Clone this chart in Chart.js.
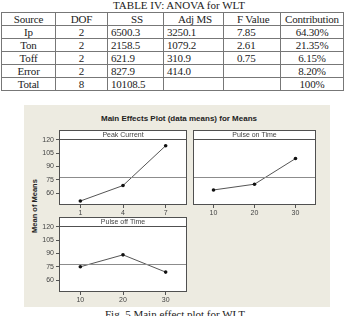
<!DOCTYPE html>
<html>
<head>
<meta charset="utf-8">
<script src="https://cdn.jsdelivr.net/npm/chart.js@4.4.0/dist/chart.umd.min.js"></script>
<style>
body { margin:0; width:346px; height:316px; overflow:hidden; background:#fff; position:relative; font-family:"Liberation Serif", serif; color:#222; }
#tcap { position:absolute; left:0; width:358px; top:-1px; text-align:center; font-size:11px; line-height:12px; }
#anova { position:absolute; left:1px; top:12px; border-collapse:collapse; table-layout:fixed; width:342px; font-size:11px; letter-spacing:-0.2px; }
#anova td { border:1px solid #777; height:12px; line-height:12px; padding:0; white-space:nowrap; }
#panel { position:absolute; left:24px; top:105px; width:306px; height:202px; background:#edebe1; }
#ptitle { position:absolute; left:26px; width:306px; top:114px; text-align:center; font:bold 8px "Liberation Sans", sans-serif; color:#222; }
#ylab { position:absolute; left:0; top:0; width:80px; text-align:center; font:bold 7.5px "Liberation Sans", sans-serif; color:#222;
        transform-origin:40px 5px; transform:translate(-5px, 201px) rotate(-90deg); line-height:10px; }
canvas { position:absolute; }
#c1 { left:26px; top:126px; }
#c2 { left:189px; top:126px; }
#c3 { left:26px; top:213px; }
#fcap { position:absolute; left:0; width:350px; top:308px; text-align:center; font-size:11px; line-height:12px; }
</style>
</head>
<body>
<div id="tcap">TABLE IV: ANOVA for WLT</div>
<table id="anova"></table>
<div id="panel"></div>
<div id="ptitle">Main Effects Plot (data means) for Means</div>
<div id="ylab">Mean of Means</div>
<canvas id="c1" width="165" height="94"></canvas>
<canvas id="c2" width="131" height="94"></canvas>
<canvas id="c3" width="165" height="94"></canvas>
<div id="fcap">Fig. 5 Main effect plot for WLT</div>
<script>
// ANOVA table
var headers = ['Source', 'DOF', 'SS', 'Adj MS', 'F Value', 'Contribution'];
var sources = ['Ip', 'Ton', 'Toff', 'Error', 'Total'];
var dof = ['2', '2', '2', '2', '8'];
var ss = ['6500.3', '2158.5', '621.9', '827.9', '10108.5'];
var adjMs = ['3250.1', '1079.2', '310.9', '414.0', ''];
var fValue = ['7.85', '2.61', '0.75', '', ''];
var contribution = ['64.30%', '21.35%', '6.15%', '8.20%', '100%'];

// main effects (data means)
var yTicks = [60, 75, 90, 105, 120];
var peakLevels = ['1', '4', '7'];
var peakMeans = [51, 68.5, 113.5];
var onLevels = ['10', '20', '30'];
var onMeans = [63.5, 70, 99];
var offLevels = ['10', '20', '30'];
var offMeans = [75, 88.5, 69];
var grandMean = 77.8;

var colWidths = [54, 52, 56, 60, 57, 63];
var headAlign = ['center', 'center', 'center', 'center', 'left', 'center'];
var cellAlign = ['center', 'center', 'left', 'left', 'left', 'center'];
var cellPad = [0, 0, 3, 3, 13, 0];

var table = document.getElementById('anova');
var cg = document.createElement('colgroup');
colWidths.forEach(function (w) {
    var c = document.createElement('col');
    c.style.width = w + 'px';
    cg.appendChild(c);
});
table.appendChild(cg);
function addRow(cells, align) {
    var tr = document.createElement('tr');
    cells.forEach(function (txt, i) {
        var td = document.createElement('td');
        td.textContent = txt;
        td.style.textAlign = align[i];
        td.style.paddingLeft = cellPad[i] + 'px';
        tr.appendChild(td);
    });
    table.appendChild(tr);
}
addRow(headers, headAlign);
for (var i = 0; i < sources.length; i++) {
    addRow([sources[i], dof[i], ss[i], adjMs[i], fValue[i], contribution[i]], cellAlign);
}

var framePlugin = {
    id: 'frame',
    beforeDraw: function (chart, args, opts) {
        var ctx = chart.ctx, a = chart.chartArea;
        ctx.save();
        ctx.fillStyle = '#ffffff';
        ctx.fillRect(a.left, a.top - 9, a.right - a.left, a.bottom - a.top + 9);
        ctx.restore();
    },
    afterDraw: function (chart, args, opts) {
        var ctx = chart.ctx, a = chart.chartArea;
        var y = Math.round(chart.scales.y.getPixelForValue(grandMean)) + 0.5;
        ctx.save();
        ctx.lineWidth = 1;
        ctx.strokeStyle = '#8c8c8c';
        ctx.beginPath();
        ctx.moveTo(a.left, y);
        ctx.lineTo(a.right, y);
        ctx.stroke();
        ctx.strokeStyle = '#505050';
        ctx.strokeRect(a.left + 0.5, a.top - 8.5, a.right - a.left - 1, a.bottom - a.top + 8);
        ctx.beginPath();
        ctx.moveTo(a.left, a.top + 0.5);
        ctx.lineTo(a.right, a.top + 0.5);
        ctx.stroke();
        ctx.fillStyle = '#444';
        ctx.font = '7px "Liberation Sans", sans-serif';
        ctx.textAlign = 'center';
        ctx.textBaseline = 'middle';
        ctx.fillText(opts.name, (a.left + a.right) / 2, a.top - 4);
        ctx.restore();
    }
};

function makeChart(id, labels, values, name, showY, pad) {
    return new Chart(document.getElementById(id).getContext('2d'), {
        type: 'line',
        data: {
            labels: labels,
            datasets: [{
                data: values,
                borderColor: '#555',
                borderWidth: 1,
                pointRadius: 1.8,
                pointBorderWidth: 0,
                pointBackgroundColor: '#111',
                tension: 0
            }]
        },
        options: {
            responsive: false,
            animation: false,
            layout: { padding: pad },
            plugins: { legend: { display: false }, tooltip: { enabled: false }, frame: { name: name } },
            scales: {
                x: {
                    offset: true,
                    grid: { offset: false, drawOnChartArea: false, tickLength: 3, color: '#555' },
                    border: { display: false },
                    ticks: { color: '#444', padding: 1, font: { size: 7, family: 'Liberation Sans' }, maxRotation: 0 },
                    afterFit: function (s) { s.height = 15; }
                },
                y: {
                    display: showY,
                    min: 46.5,
                    max: 121.1,
                    grid: { drawOnChartArea: false, tickLength: 3, color: '#555' },
                    border: { display: false },
                    ticks: { color: '#444', padding: 2, font: { size: 7, family: 'Liberation Sans' } },
                    afterBuildTicks: function (s) { s.ticks = yTicks.map(function (v) { return { value: v }; }); },
                    afterFit: function (s) { s.width = showY ? 33 : 0; }
                }
            }
        },
        plugins: [framePlugin]
    });
}

makeChart('c1', peakLevels, peakMeans, 'Peak Current', true, { top: 13, right: 1, left: 0, bottom: 0 });
makeChart('c2', onLevels, onMeans, 'Pulse on Time', false, { top: 13, right: 1, left: 0, bottom: 0 });
makeChart('c3', offLevels, offMeans, 'Pulse off Time', true, { top: 13, right: 1, left: 0, bottom: 0 });
</script>
</body>
</html>
